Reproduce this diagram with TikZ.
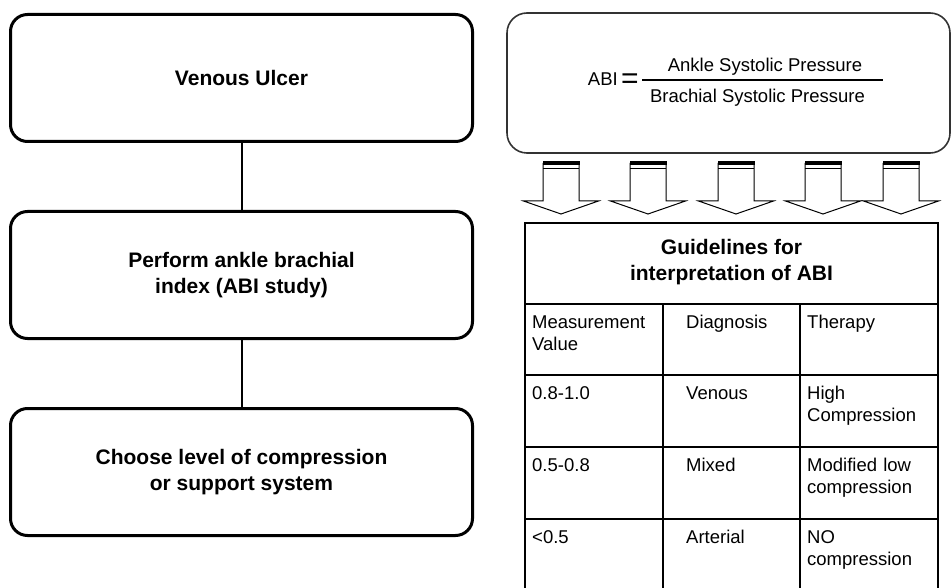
\documentclass[tikz,border=0pt]{standalone}
\usepackage{fontspec}
\setmainfont{Liberation Sans}
\usetikzlibrary{positioning}

\newcommand{\boxfont}{\fontsize{21}{26.5}\selectfont\bfseries}
\newcommand{\cellfont}{\fontsize{18.5}{22.5}\selectfont}

\begin{document}
\begin{tikzpicture}[x=1pt,y=-1pt,
	stepbox/.style={draw, line width=3pt, rounded corners=17pt, minimum width=462pt, minimum height=127pt, align=center, font=\boxfont},
	link/.style={line width=2pt},
	formbox/.style={draw=black!80, line width=1.6pt, rounded corners=20pt, minimum width=443pt, minimum height=140pt},
	tableline/.style={line width=2.5pt},
	celltext/.style={anchor=north west, inner sep=0pt, text width=128pt, align=left, font=\cellfont, execute at begin node=\strut},
	blockarrow/.style={draw, fill=white, line width=1pt, line join=miter}]
	\useasboundingbox (0,0) rectangle (951,588);

	% left column: steps
	\node[stepbox] (ulcer) at (241.5,78) {Venous Ulcer};
	\node[stepbox, below=67pt of ulcer] (abi) {Perform ankle brachial\\index (ABI study)};
	\node[stepbox, below=67pt of abi] (choose) {Choose level of compression\\or support system};
	\draw[link] (ulcer) -- (abi);
	\draw[link] (abi) -- (choose);

	% formula box
	\node[formbox] (formula) at (728.5,83) {};
	\node[anchor=base east, inner sep=0pt, font=\cellfont] (abilbl) at (618,86) {ABI};
	\node[inner sep=0pt, font=\fontsize{30}{30}\selectfont] (eqsign) at (630,81) {=};
	\node[anchor=base, inner sep=0pt, font=\cellfont] (num) at (765,72) {Ankle Systolic Pressure};
	\node[anchor=base, inner sep=0pt, font=\cellfont] (den) at (757.5,103) {Brachial Systolic Pressure};
	\draw[line width=1.2pt] (642,80) -- (883,80);

	% block arrows
	\foreach \cx in {561,648,736,823,901}
	{
		\draw[blockarrow] (\cx-18,163) -- (\cx-18,201) -- (\cx-37.5,201) -- (\cx,214)
			-- (\cx+37.5,201) -- (\cx+18,201) -- (\cx+18,163);
		\fill (\cx-18.5,161) rectangle (\cx+18.5,165.5);
		\draw[line width=1pt] (\cx-18,169) -- (\cx+18,169);
	}

	% table of guidelines
	\draw[tableline] (525,223) rectangle (938,600);
	\foreach \y in {304,375,447,519}
		\draw[tableline] (525,\y) -- (938,\y);
	\draw[tableline] (663,304) -- (663,600);
	\draw[tableline] (800,304) -- (800,600);
	\node[align=center, font=\boxfont] (guide) at (731.5,262) {Guidelines for\\interpretation of ABI};

	% table cells
	\foreach \val/\diag/\ther/\y in {{Measurement\\Value}/Diagnosis/Therapy/304,
		0.8-1.0/Venous/{High\\Compression}/375,
		0.5-0.8/Mixed/{Modified low\\compression}/447,
		<0.5/Arterial/{NO\\compression}/519}
	{
		\node[celltext] (val-\y) at (532,\y+8.3) {\val};
		\node[celltext] (diag-\y) at (686,\y+8.3) {\diag};
		\node[celltext] (ther-\y) at (807,\y+8.3) {\ther};
	}
\end{tikzpicture}
\end{document}
